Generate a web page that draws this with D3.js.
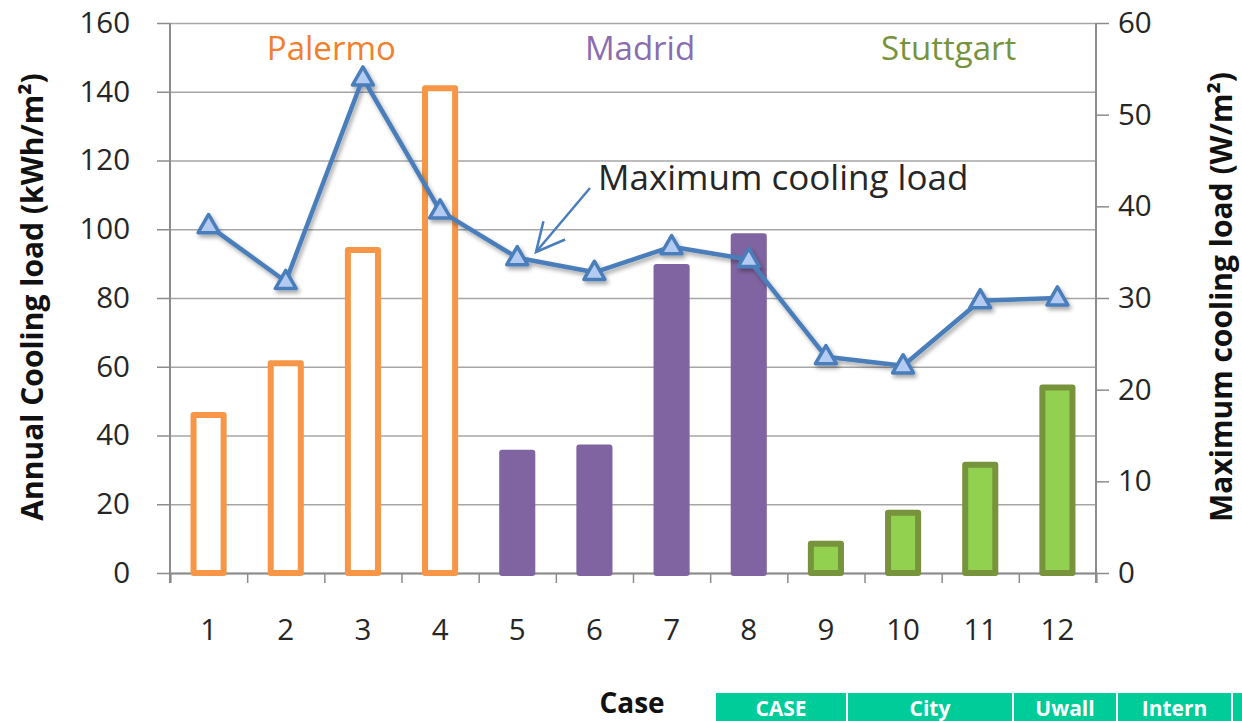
<!DOCTYPE html>
<html>
<head>
<meta charset="utf-8">
<script src="https://cdn.jsdelivr.net/npm/d3@7"></script>
<style>
  body { margin: 0; background: #fff; }
  svg { display: block; font-family: "Open Sans", sans-serif; }
</style>
</head>
<body>
<div id="chart"></div>
<script>
// values
const cases = ["1", "2", "3", "4", "5", "6", "7", "8", "9", "10", "11", "12"];
const cities = ["Palermo", "Madrid", "Stuttgart"];
const caseCity = [0, 0, 0, 0, 1, 1, 1, 1, 2, 2, 2, 2];
const annualLoad = [46, 61, 94, 141, 35, 36.5, 89, 98, 8.5, 17.5, 31.5, 54];
const maxLoad = [37.9, 31.8, 54, 39.5, 34.4, 32.8, 35.6, 34.2, 23.6, 22.6, 29.7, 30];
const leftTicks = [0, 20, 40, 60, 80, 100, 120, 140, 160];
const rightTicks = [0, 10, 20, 30, 40, 50, 60];
const tableHeaders = ["CASE", "City", "Uwall", "Intern", ""];

// styles
const cityStroke = ["#f79646", "#8064a2", "#77933c"];
const cityFill = ["#ffffff", "#8064a2", "#92d050"];
const cityText = ["#f0802e", "#8a6cb0", "#76923c"];
const lineColor = "#4a7ebb";

const W = 1242, H = 721;
const margin = { top: 23, right: 146, bottom: 148, left: 170 };
const width = W - margin.left - margin.right,
  height = H - margin.top - margin.bottom;

const svg = d3.select("#chart")
  .append("svg")
  .attr("width", W)
  .attr("height", H);

const defs = svg.append("defs");
const shadow = defs.append("filter").attr("id", "shadow")
  .attr("x", "-10%").attr("y", "-10%").attr("width", "130%").attr("height", "140%");
shadow.append("feDropShadow")
  .attr("dx", 2).attr("dy", 3).attr("stdDeviation", 2)
  .attr("flood-color", "#000").attr("flood-opacity", 0.35);

defs.append("marker").attr("id", "arrowhead")
  .attr("markerUnits", "userSpaceOnUse")
  .attr("viewBox", "0 0 12 12")
  .attr("refX", 11).attr("refY", 6)
  .attr("markerWidth", 34).attr("markerHeight", 34)
  .attr("orient", "auto")
  .append("path")
  .attr("d", "M1,1 L11,6 L1,11")
  .attr("fill", "none")
  .attr("stroke", lineColor)
  .attr("stroke-width", 0.9);

const g = svg.append("g")
  .attr("transform", "translate(" + margin.left + "," + margin.top + ")");

// scales
const x = d3.scaleBand().domain(cases).range([0, width]).padding(0);
const xEdge = d3.scaleLinear().domain([0, cases.length]).range([0, width]);
const yL = d3.scaleLinear().domain([0, 160]).range([height, 0]);
const yR = d3.scaleLinear().domain([0, 60]).range([height, 0]);

// gridlines
g.append("g")
  .attr("class", "grid")
  .call(d3.axisLeft(yL).tickValues(leftTicks).tickSize(-width).tickFormat(""))
  .call(s => s.select(".domain").remove())
  .call(s => s.selectAll("line").attr("stroke", "#a6a6a6").attr("stroke-width", 1.5));

// left axis
const axisColor = "#8c8c8c";
g.append("g")
  .call(d3.axisLeft(yL).tickValues(leftTicks).tickSize(13).tickPadding(27).tickSizeOuter(0))
  .call(s => s.select(".domain").remove())
  .call(s => s.selectAll("line").attr("stroke", axisColor).attr("stroke-width", 1.5))
  .call(s => s.selectAll("text").attr("font-size", 29.5).attr("fill", "#262626")
    .attr("font-family", "Open Sans"));

// right axis
g.append("g")
  .attr("transform", "translate(" + width + ",0)")
  .call(d3.axisRight(yR).tickValues(rightTicks).tickSize(13).tickPadding(9).tickSizeOuter(0))
  .call(s => s.select(".domain").remove())
  .call(s => s.selectAll("line").attr("stroke", axisColor).attr("stroke-width", 1.5))
  .call(s => s.selectAll("text").attr("font-size", 29.5).attr("fill", "#262626")
    .attr("font-family", "Open Sans"));

// x axis: labels at centres, ticks at case boundaries
g.append("g")
  .attr("transform", "translate(0," + height + ")")
  .call(d3.axisBottom(x).tickSize(0).tickPadding(46))
  .call(s => s.select(".domain").remove())
  .call(s => s.selectAll("text").attr("font-size", 29.5).attr("fill", "#262626")
    .attr("font-family", "Open Sans"));

g.append("g")
  .attr("transform", "translate(0," + height + ")")
  .call(d3.axisBottom(xEdge).ticks(cases.length).tickSize(10).tickFormat("").tickSizeOuter(10))
  .call(s => s.select(".domain").attr("stroke", axisColor).attr("stroke-width", 2))
  .call(s => s.selectAll("line").attr("stroke", axisColor).attr("stroke-width", 1.5));

// vertical axis lines
g.append("line")
  .attr("x1", 0).attr("x2", 0).attr("y1", 0).attr("y2", height + 10)
  .attr("stroke", axisColor).attr("stroke-width", 2);
g.append("line")
  .attr("x1", width).attr("x2", width).attr("y1", 0).attr("y2", height + 10)
  .attr("stroke", axisColor).attr("stroke-width", 2);

// bars
const barW = x.bandwidth() * 0.39;
g.selectAll("rect.bar")
  .data(annualLoad)
  .enter()
  .append("rect")
  .attr("class", "bar")
  .attr("x", (d, i) => x(cases[i]) + (x.bandwidth() - barW) / 2)
  .attr("y", d => yL(d))
  .attr("width", barW)
  .attr("height", d => height - yL(d))
  .attr("fill", (d, i) => cityFill[caseCity[i]])
  .attr("stroke", (d, i) => cityStroke[caseCity[i]])
  .attr("stroke-width", 6)
  .attr("stroke-linejoin", "round");

// max cooling load line
const lineG = g.append("g").attr("filter", "url(#shadow)");
const line = d3.line()
  .x((d, i) => x(cases[i]) + x.bandwidth() / 2)
  .y(d => yR(d));
lineG.append("path")
  .datum(maxLoad)
  .attr("d", line)
  .attr("fill", "none")
  .attr("stroke", lineColor)
  .attr("stroke-width", 4.5)
  .attr("stroke-linejoin", "round");
lineG.selectAll("path.marker")
  .data(maxLoad)
  .enter()
  .append("path")
  .attr("class", "marker")
  .attr("d", d3.symbol(d3.symbolTriangle, 190))
  .attr("transform", (d, i) => "translate(" + (x(cases[i]) + x.bandwidth() / 2) + "," + (yR(d) + 1) + ")")
  .attr("fill", "#b3cbf2")
  .attr("stroke", lineColor)
  .attr("stroke-width", 3.5)
  .attr("stroke-linejoin", "round");

// city labels above each group
cities.forEach((name, ci) => {
  const idx = caseCity.map((c, i) => c === ci ? i : -1).filter(i => i >= 0);
  const cx = (x(cases[idx[0]]) + x(cases[idx[idx.length - 1]]) + x.bandwidth()) / 2;
  g.append("text")
    .attr("x", cx + 7)
    .attr("y", 37)
    .attr("text-anchor", "middle")
    .attr("font-size", 33)
    .attr("fill", cityText[ci])
    .text(name);
});

// annotation with arrow
svg.append("text")
  .attr("x", 598)
  .attr("y", 190)
  .attr("font-size", 35)
  .attr("fill", "#262626")
  .text("Maximum cooling load");
svg.append("line")
  .attr("x1", 590).attr("y1", 188)
  .attr("x2", 536).attr("y2", 252)
  .attr("stroke", lineColor)
  .attr("stroke-width", 2.5)
  .attr("marker-end", "url(#arrowhead)");

// axis titles
svg.append("text")
  .attr("transform", "translate(43,297) rotate(-90)")
  .attr("text-anchor", "middle")
  .attr("font-size", 30)
  .attr("font-weight", "bold")
  .attr("fill", "#111")
  .text("Annual Cooling load (kWh/m²)");
svg.append("text")
  .attr("transform", "translate(1232,297) rotate(-90)")
  .attr("text-anchor", "middle")
  .attr("font-size", 30)
  .attr("font-weight", "bold")
  .attr("fill", "#111")
  .text("Maximum cooling load (W/m²)");
svg.append("text")
  .attr("x", 632)
  .attr("y", 713)
  .attr("text-anchor", "middle")
  .attr("font-size", 28)
  .attr("font-weight", "bold")
  .attr("fill", "#111")
  .text("Case");

// cropped table header strip along the bottom edge
const cellW = [130, 164, 102, 113, 20];
let cx0 = 716;
tableHeaders.forEach((h, i) => {
  svg.append("rect")
    .attr("x", cx0).attr("y", 693)
    .attr("width", cellW[i]).attr("height", 28)
    .attr("fill", "#00cc99");
  svg.append("text")
    .attr("x", cx0 + cellW[i] / 2)
    .attr("y", 716)
    .attr("text-anchor", "middle")
    .attr("font-size", 21)
    .attr("font-weight", "bold")
    .attr("fill", "#fff")
    .text(h);
  cx0 += cellW[i] + 2;
});
</script>
</body>
</html>
